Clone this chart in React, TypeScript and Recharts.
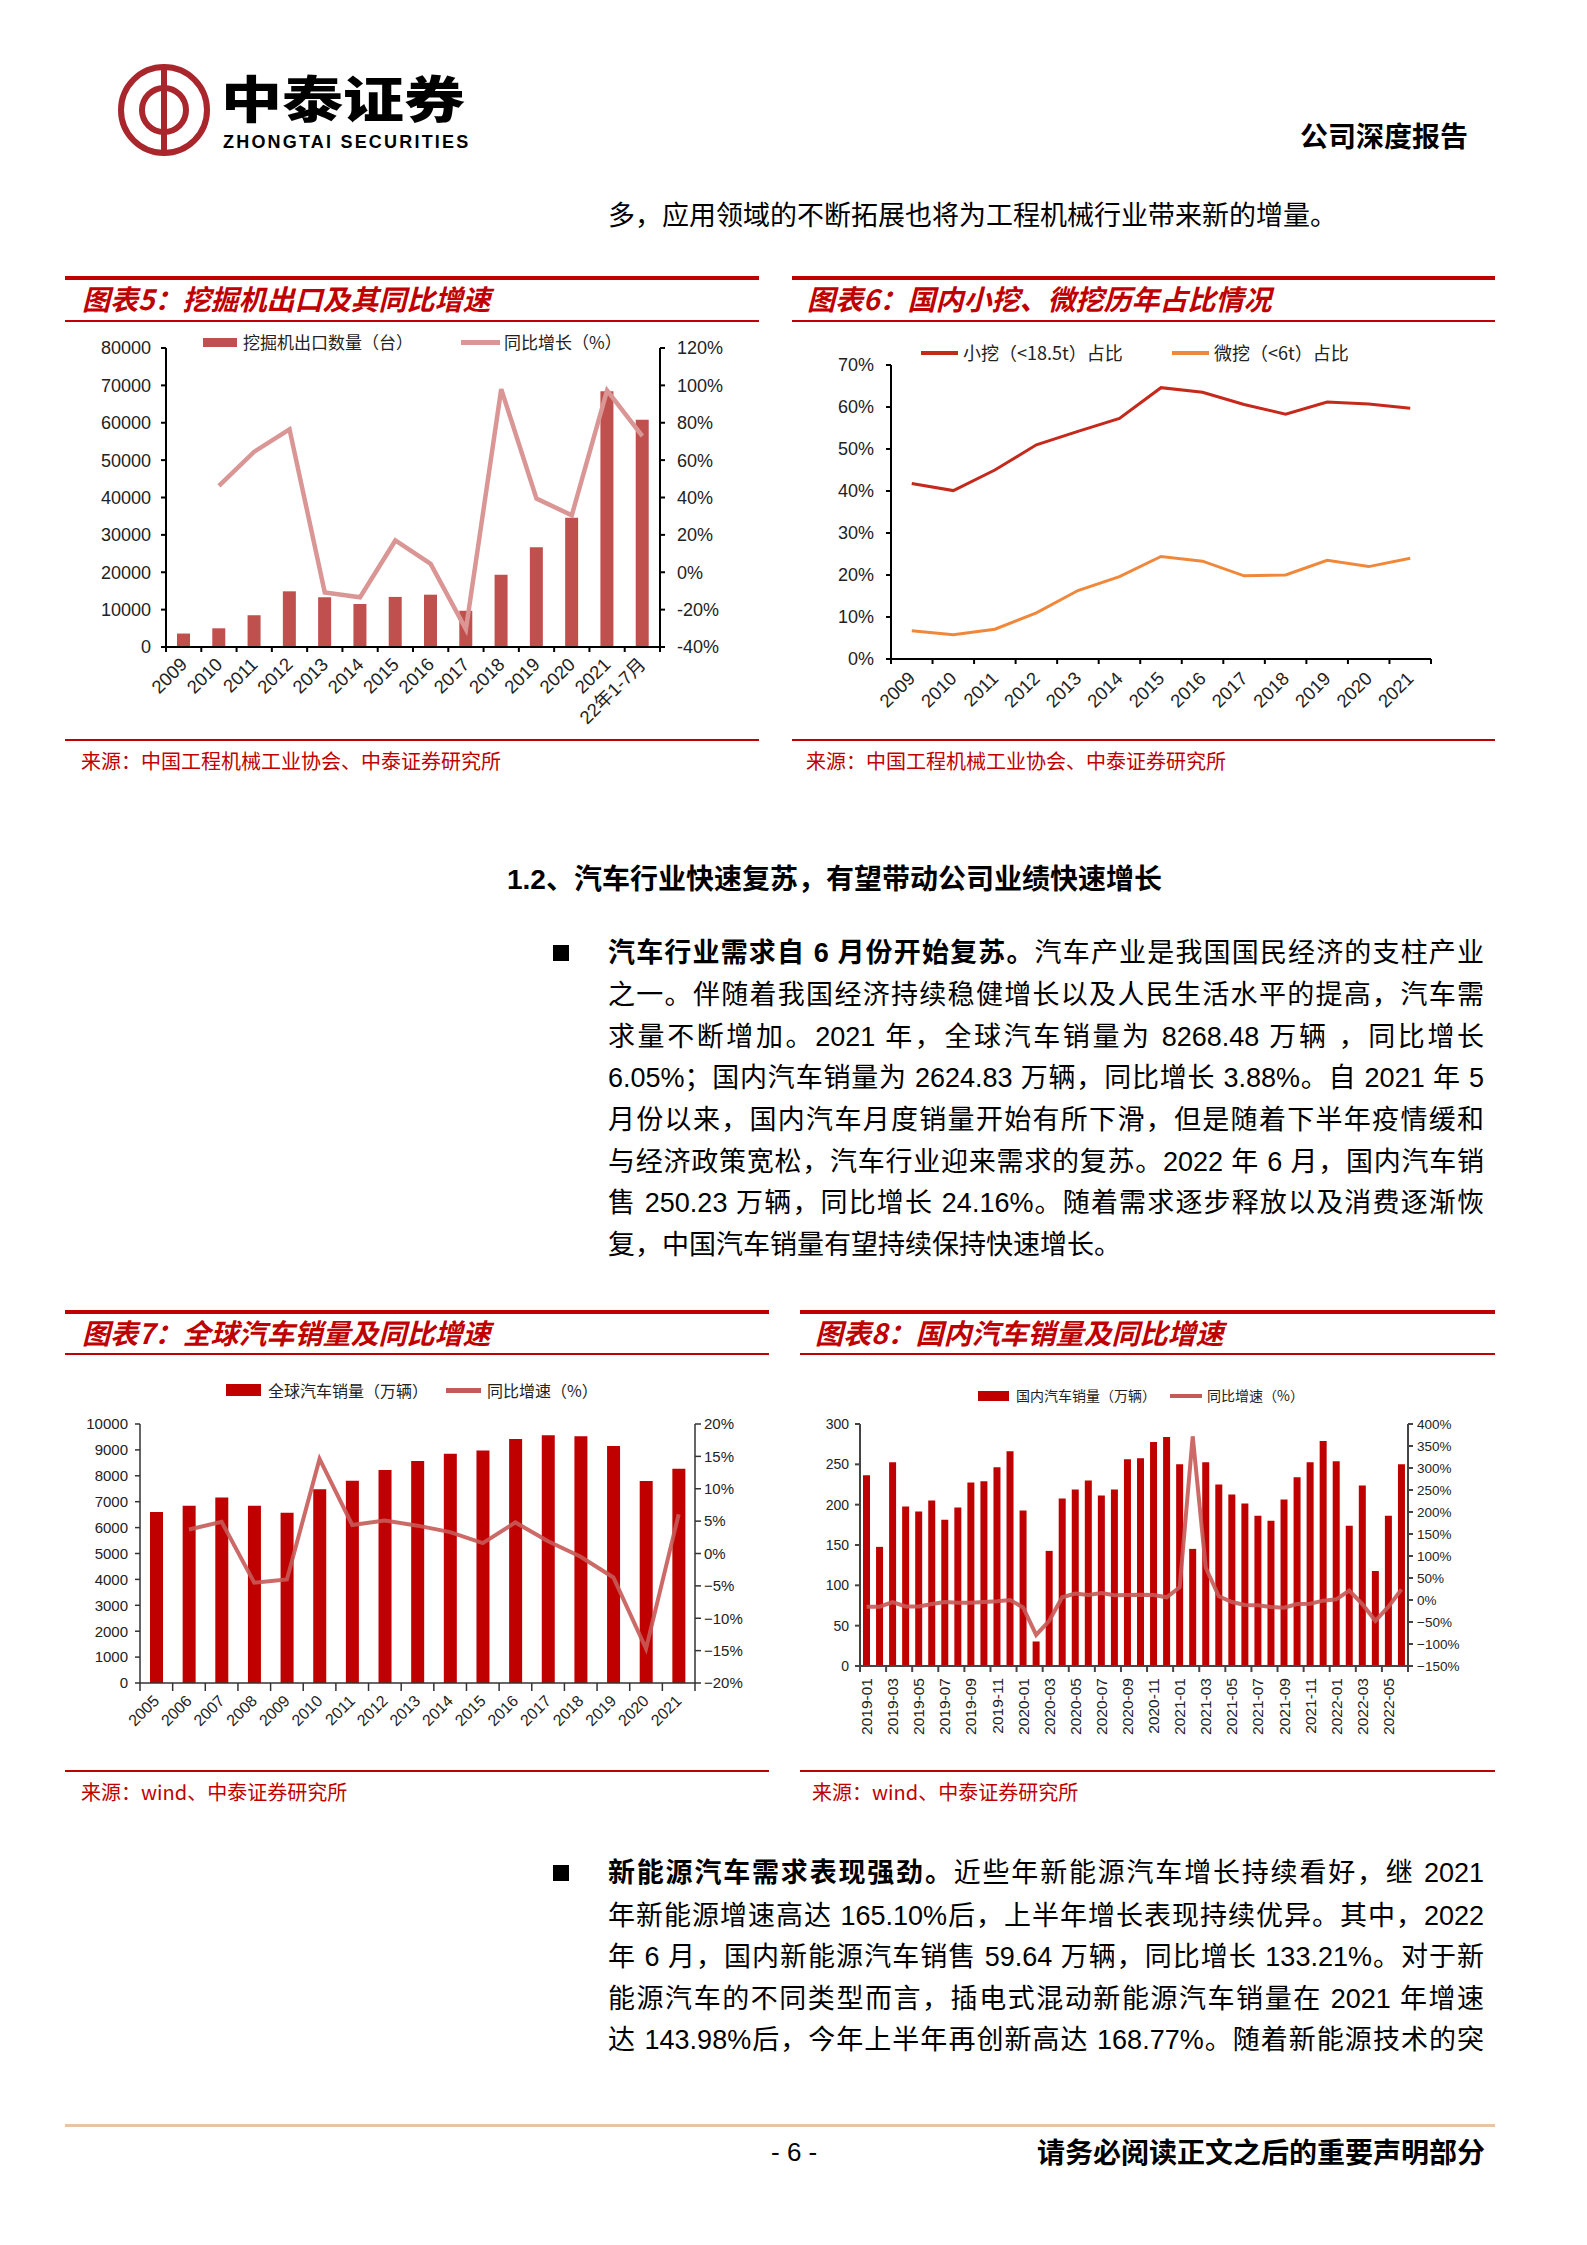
import React from 'react';
import { ComposedChart, Bar, Line, XAxis, YAxis } from 'recharts';

const RED = '#C00000';
const CJK = "'Noto Sans CJK SC', sans-serif";
const BODY = "'Liberation Sans Narrow', 'Liberation Sans', 'Noto Sans CJK SC', sans-serif";
const NUM = "'Liberation Sans', 'Noto Sans CJK SC', Arial, sans-serif";

// 图表5：挖掘机出口及其同比增速
const excYears = ['2009', '2010', '2011', '2012', '2013', '2014', '2015', '2016', '2017', '2018', '2019', '2020', '2021', '22年1-7月'];
const excExport = [3600, 5000, 8500, 14900, 13300, 11500, 13400, 14000, 9700, 19300, 26700, 34600, 68400, 60800];
const excYoy = [null, 46.2, 64.5, 76.5, -10.8, -13.4, 17.0, 4.5, -30.5, 98.0, 39.4, 30.5, 97.3, 72.9];
const excLeftTicks = [0, 10000, 20000, 30000, 40000, 50000, 60000, 70000, 80000];
const excRightTicks = [-40, -20, 0, 20, 40, 60, 80, 100, 120];

// 图表6：国内小挖、微挖历年占比
const shareYears = ['2009', '2010', '2011', '2012', '2013', '2014', '2015', '2016', '2017', '2018', '2019', '2020', '2021'];
const smallShare = [41.8, 40.1, 45.0, 51.0, 54.2, 57.3, 64.6, 63.5, 60.6, 58.3, 61.2, 60.7, 59.7];
const miniShare = [6.7, 5.8, 7.1, 11.0, 16.3, 19.6, 24.4, 23.3, 19.8, 20.0, 23.5, 22.0, 24.0];
const shareTicks = [0, 10, 20, 30, 40, 50, 60, 70];

// 图表7：全球汽车销量
const globalYears = ['2005', '2006', '2007', '2008', '2009', '2010', '2011', '2012', '2013', '2014', '2015', '2016', '2017', '2018', '2019', '2020', '2021'];
const globalSales = [6600, 6840, 7160, 6840, 6570, 7480, 7810, 8220, 8570, 8850, 8980, 9420, 9570, 9530, 9150, 7800, 8268];
const globalYoy = [null, 3.7, 4.9, -4.5, -4.0, 14.6, 4.4, 5.1, 4.3, 3.3, 1.6, 4.8, 1.9, -0.5, -3.7, -14.7, 6.05];
const globalLeftTicks = [0, 1000, 2000, 3000, 4000, 5000, 6000, 7000, 8000, 9000, 10000];
const globalRightTicks = [-20, -15, -10, -5, 0, 5, 10, 15, 20];

// 图表8：国内汽车销量
const months = [
  '2019-01', '2019-02', '2019-03', '2019-04', '2019-05', '2019-06', '2019-07', '2019-08', '2019-09', '2019-10', '2019-11', '2019-12',
  '2020-01', '2020-02', '2020-03', '2020-04', '2020-05', '2020-06', '2020-07', '2020-08', '2020-09', '2020-10', '2020-11', '2020-12',
  '2021-01', '2021-02', '2021-03', '2021-04', '2021-05', '2021-06', '2021-07', '2021-08', '2021-09', '2021-10', '2021-11', '2021-12',
  '2022-01', '2022-02', '2022-03', '2022-04', '2022-05', '2022-06',
];
const domesticSales = [
  236.4, 147.7, 252.6, 197.7, 191.4, 205.2, 181.4, 196.4, 227.6, 228.9, 246.4, 266.3,
  192.7, 30.4, 142.7, 207.7, 218.9, 230.1, 211.4, 218.9, 256.3, 257.6, 277.6, 283.8,
  250.1, 145.2, 252.6, 225.1, 212.7, 201.4, 186.4, 180.2, 206.4, 233.9, 252.6, 278.8,
  253.8, 173.9, 223.9, 117.8, 186.4, 250.2,
];
const domesticYoy = [
  -15.3, -15.3, -4.6, -14.5, -14.5, -9.2, -4.6, -6.1, -6.1, -4.6, -3.1, 0,
  -16.8, -79.3, -47.3, 6.1, 14.5, 11.4, 16.0, 10.7, 11.4, 12.2, 11.4, 6.1,
  29.0, 372, 73.2, 8.4, -4.6, -11.4, -12.2, -16.0, -17.5, -9.2, -8.4, -1.5,
  1.5, 21.4, -9.2, -47.3, -15.3, 24.2,
];
const domLeftTicks = [0, 50, 100, 150, 200, 250, 300];
const domRightTicks = [-150, -100, -50, 0, 50, 100, 150, 200, 250, 300, 350, 400];

const excData = excYears.map((name, i) => ({ name, v: excExport[i], yoy: excYoy[i] }));
const shareData = shareYears.map((name, i) => ({ name, small: smallShare[i], mini: miniShare[i] }));
const globalData = globalYears.map((name, i) => ({ name, v: globalSales[i], yoy: globalYoy[i] }));
const domData = months.map((name, i) => ({ name, v: domesticSales[i], yoy: domesticYoy[i] }));

const pct = (v: number) => `${v}%`;
const pctMinus = (v: number) => `${v < 0 ? '−' + Math.abs(v) : v}%`;

// x-axis ticks sit on the category boundaries, labels are rotated
const makeTick = (cfg: any) => (props: any) => {
  const { x, y, payload, index } = props;
  const every = cfg.every || 1;
  const show = index % every === 0;
  const ly = y + cfg.gap;
  return (
    <g>
      {show && <line x1={x - cfg.half} x2={x - cfg.half} y1={y} y2={y + cfg.len} stroke={cfg.stroke} strokeWidth={cfg.sw} />}
      {index === cfg.n - 1 && <line x1={x + cfg.half} x2={x + cfg.half} y1={y} y2={y + cfg.len} stroke={cfg.stroke} strokeWidth={cfg.sw} />}
      {show && (
        <text
          x={x}
          y={ly}
          textAnchor="end"
          dominantBaseline="central"
          transform={`rotate(${cfg.angle} ${x} ${ly})`}
          fontSize={cfg.size}
          fontFamily={NUM}
          fill="#222"
        >
          {payload.value}
        </text>
      )}
    </g>
  );
};

const Rect = ({ x, y, w, h, bg }: any) => (
  <div style={{ position: 'absolute', left: x, top: y, width: w, height: h, background: bg }} />
);

const Txt = ({ x, y, size, children, color = '#000', bold = false, italic = false, family = CJK, lh = 1.4, weight, style = {} }: any) => (
  <div
    style={{
      position: 'absolute',
      left: x,
      top: y - (size * lh) / 2,
      height: size * lh,
      lineHeight: `${size * lh}px`,
      fontSize: size,
      color,
      fontWeight: weight || (bold ? 700 : 400),
      fontStyle: italic ? 'italic' : 'normal',
      fontFamily: family,
      whiteSpace: 'nowrap',
      ...style,
    }}
  >
    {children}
  </div>
);

const Frame = ({ x1, x2, top, thin, bottom, title, titleX, source, sourceX }: any) => (
  <>
    <Rect x={x1} y={top} w={x2 - x1} h={4} bg={RED} />
    <Txt x={titleX} y={(top + thin) / 2 + 1} size={28} color={RED} bold italic>{title}</Txt>
    <Rect x={x1} y={thin} w={x2 - x1} h={2} bg={RED} />
    <Rect x={x1} y={bottom} w={x2 - x1} h={2} bg={RED} />
    <Txt x={sourceX} y={bottom + 22} size={20} color={RED}>{source}</Txt>
  </>
);

const Para = ({ x, y, w, children, last = false }: any) => (
  <div
    style={{
      position: 'absolute',
      left: x,
      top: y - 21,
      width: w,
      height: 42,
      lineHeight: '42px',
      fontSize: 27,
      fontFamily: BODY,
      color: '#000',
      whiteSpace: 'nowrap',
      textAlign: 'justify',
      textAlignLast: last ? 'left' : 'justify',
    }}
  >
    {children}
  </div>
);

const Logo = () => (
  <svg style={{ position: 'absolute', left: 110, top: 56 }} width={110} height={110} viewBox="110 56 110 110">
    <circle cx={164} cy={110} r={43} fill="none" stroke="#A8262C" strokeWidth={6} />
    <line x1={164} y1={70} x2={164} y2={150} stroke="#A8262C" strokeWidth={6} />
    <path d="M 164 88 A 22 22 0 1 0 164 132" fill="none" stroke="#A8262C" strokeWidth={6} />
    <path d="M 164 88 A 22 22 0 1 1 164 132" fill="none" stroke="#A8262C" strokeWidth={6} />
  </svg>
);

const ExcavatorChart = () => (
  <div style={{ position: 'absolute', left: 65, top: 330 }}>
    <ComposedChart width={700} height={420} data={excData} margin={{ top: 18, right: 45, left: 0, bottom: 13 }}>
      <XAxis
        dataKey="name"
        xAxisId="x"
        scale="band"
        interval={0}
        height={90}
        tickSize={0}
        tickMargin={0}
        tickLine={false}
        axisLine={{ stroke: '#000', strokeWidth: 2 }}
        tick={makeTick({ half: 17.64, n: excYears.length, len: 5, stroke: '#000', sw: 2, size: 18.5, angle: -45, gap: 14 })}
      />
      <YAxis
        yAxisId="left"
        width={101}
        domain={[0, 80000]}
        ticks={excLeftTicks}
        interval={0}
        tickSize={5}
        tickMargin={10}
        axisLine={{ stroke: '#000', strokeWidth: 2 }}
        tickLine={{ stroke: '#000', strokeWidth: 2 }}
        tick={{ fontSize: 18, fill: '#222', fontFamily: NUM }}
      />
      <YAxis
        yAxisId="right"
        orientation="right"
        width={60}
        domain={[-40, 120]}
        ticks={excRightTicks}
        interval={0}
        tickSize={5}
        tickMargin={12}
        tickFormatter={pct}
        axisLine={{ stroke: '#000', strokeWidth: 2 }}
        tickLine={{ stroke: '#000', strokeWidth: 2 }}
        tick={{ fontSize: 18, fill: '#222', fontFamily: NUM }}
      />
      <Bar dataKey="v" xAxisId="x" yAxisId="left" fill="#C0504D" barSize={13} isAnimationActive={false} />
      <Line dataKey="yoy" xAxisId="x" yAxisId="right" type="linear" stroke="#D99694" strokeWidth={4.5} dot={false} isAnimationActive={false} />
    </ComposedChart>
  </div>
);

const ShareChart = () => (
  <div style={{ position: 'absolute', left: 792, top: 340 }}>
    <ComposedChart width={700} height={400} data={shareData} margin={{ top: 25, right: 61, left: 0, bottom: 6 }}>
      <XAxis
        dataKey="name"
        scale="band"
        interval={0}
        height={75}
        tickSize={0}
        tickMargin={0}
        tickLine={false}
        axisLine={{ stroke: '#000', strokeWidth: 2 }}
        tick={makeTick({ half: 20.77, n: shareYears.length, len: 5, stroke: '#000', sw: 2, size: 18.5, angle: -45, gap: 16 })}
      />
      <YAxis
        width={99}
        domain={[0, 70]}
        ticks={shareTicks}
        interval={0}
        tickSize={5}
        tickMargin={12}
        tickFormatter={pct}
        axisLine={{ stroke: '#000', strokeWidth: 2 }}
        tickLine={{ stroke: '#000', strokeWidth: 2 }}
        tick={{ fontSize: 18, fill: '#222', fontFamily: NUM }}
      />
      <Line dataKey="small" type="linear" stroke="#C4291C" strokeWidth={3} dot={false} isAnimationActive={false} />
      <Line dataKey="mini" type="linear" stroke="#F0883C" strokeWidth={3} dot={false} isAnimationActive={false} />
    </ComposedChart>
  </div>
);

const GlobalChart = () => (
  <div style={{ position: 'absolute', left: 65, top: 1400 }}>
    <ComposedChart width={705} height={370} data={globalData} margin={{ top: 24, right: 15, left: 0, bottom: 7 }}>
      <XAxis
        dataKey="name"
        xAxisId="x"
        scale="band"
        interval={0}
        height={80}
        tickSize={0}
        tickMargin={0}
        tickLine={false}
        axisLine={{ stroke: '#333', strokeWidth: 1.5 }}
        tick={makeTick({ half: 16.32, n: globalYears.length, len: 8, stroke: '#333', sw: 1.5, size: 16, angle: -45, gap: 15 })}
      />
      <YAxis
        yAxisId="left"
        width={75}
        domain={[0, 10000]}
        ticks={globalLeftTicks}
        interval={0}
        tickSize={5}
        tickMargin={7}
        axisLine={{ stroke: '#333', strokeWidth: 1.5 }}
        tickLine={{ stroke: '#333', strokeWidth: 1.5 }}
        tick={{ fontSize: 15, fill: '#222', fontFamily: NUM }}
      />
      <YAxis
        yAxisId="right"
        orientation="right"
        width={60}
        domain={[-20, 20]}
        ticks={globalRightTicks}
        interval={0}
        tickSize={6}
        tickMargin={3}
        tickFormatter={pctMinus}
        axisLine={{ stroke: '#333', strokeWidth: 1.5 }}
        tickLine={{ stroke: '#333', strokeWidth: 1.5 }}
        tick={{ fontSize: 15, fill: '#222', fontFamily: NUM }}
      />
      <Bar dataKey="v" xAxisId="x" yAxisId="left" fill="#C00000" barSize={13} isAnimationActive={false} />
      <Line dataKey="yoy" xAxisId="x" yAxisId="right" type="linear" stroke="#C65A58" strokeOpacity={0.9} strokeWidth={4} dot={false} isAnimationActive={false} />
    </ComposedChart>
  </div>
);

const DomesticChart = () => (
  <div style={{ position: 'absolute', left: 800, top: 1400 }}>
    <ComposedChart width={695} height={370} data={domData} margin={{ top: 24, right: 17, left: 0, bottom: 9 }}>
      <XAxis
        dataKey="name"
        xAxisId="x"
        scale="band"
        interval={0}
        height={95}
        tickSize={0}
        tickMargin={0}
        tickLine={false}
        axisLine={{ stroke: '#444', strokeWidth: 2 }}
        tick={makeTick({ half: 6.52, n: months.length, len: 6, stroke: '#444', sw: 2, size: 15.5, angle: -90, gap: 12, every: 2 })}
      />
      <YAxis
        yAxisId="left"
        width={60}
        domain={[0, 300]}
        ticks={domLeftTicks}
        interval={0}
        tickSize={5}
        tickMargin={6}
        axisLine={{ stroke: '#444', strokeWidth: 2 }}
        tickLine={{ stroke: '#444', strokeWidth: 2 }}
        tick={{ fontSize: 14, fill: '#222', fontFamily: NUM }}
      />
      <YAxis
        yAxisId="right"
        orientation="right"
        width={70}
        domain={[-150, 400]}
        ticks={domRightTicks}
        interval={0}
        tickSize={5}
        tickMargin={4}
        tickFormatter={pctMinus}
        axisLine={{ stroke: '#444', strokeWidth: 2 }}
        tickLine={{ stroke: '#444', strokeWidth: 2 }}
        tick={{ fontSize: 13.5, fill: '#222', fontFamily: NUM }}
      />
      <Bar dataKey="v" xAxisId="x" yAxisId="left" fill="#C00000" barSize={7} isAnimationActive={false} />
      <Line dataKey="yoy" xAxisId="x" yAxisId="right" type="linear" stroke="#C65A58" strokeOpacity={0.9} strokeWidth={4} dot={false} isAnimationActive={false} />
    </ComposedChart>
  </div>
);

export default function App() {
  return (
    <div style={{ position: 'absolute', left: 0, top: 0, width: 1587, height: 2245, background: '#fff', overflow: 'hidden', fontFamily: CJK }}>
      {/* header */}
      <Logo />
      <Txt x={221} y={96} size={50} lh={1.0} weight={900} style={{ transform: 'scaleX(1.22)', transformOrigin: 'left center' }}>中泰证券</Txt>
      <Txt x={223} y={142} size={18} lh={1.0} bold family={NUM} style={{ letterSpacing: 2.2 }}>ZHONGTAI SECURITIES</Txt>
      <Txt x={1300} y={136} size={28} bold>公司深度报告</Txt>
      <Para x={608} y={216} w={900} last>多，应用领域的不断拓展也将为工程机械行业带来新的增量。</Para>

      {/* chart 5 */}
      <Frame x1={65} x2={759} top={276} thin={320} bottom={739} title="图表5：挖掘机出口及其同比增速" titleX={82} source="来源：中国工程机械工业协会、中泰证券研究所" sourceX={81} />
      <ExcavatorChart />
      <Rect x={203} y={338} w={34} h={9} bg="#C0504D" />
      <Txt x={243} y={342} size={17} color="#222">挖掘机出口数量（台）</Txt>
      <Rect x={461} y={340} w={39} h={5} bg="#D99694" />
      <Txt x={504} y={342} size={17} color="#222">同比增长（%）</Txt>

      {/* chart 6 */}
      <Frame x1={792} x2={1495} top={276} thin={320} bottom={739} title="图表6：国内小挖、微挖历年占比情况" titleX={807} source="来源：中国工程机械工业协会、中泰证券研究所" sourceX={806} />
      <ShareChart />
      <Rect x={921} y={351} w={37} h={4} bg="#C4291C" />
      <Txt x={963} y={353} size={18} color="#222">小挖（&lt;18.5t）占比</Txt>
      <Rect x={1172} y={351} w={37} h={4} bg="#F0883C" />
      <Txt x={1214} y={353} size={18} color="#222">微挖（&lt;6t）占比</Txt>

      {/* section heading and paragraph */}
      <Txt x={507} y={880} size={28} bold family={NUM}>1.2、汽车行业快速复苏，有望带动公司业绩快速增长</Txt>
      <Rect x={553} y={945} w={16} h={16} bg="#000" />
      <Para x={608} y={953} w={876}><b>汽车行业需求自 6 月份开始复苏。</b>汽车产业是我国国民经济的支柱产业</Para>
      <Para x={608} y={995} w={876}>之一。伴随着我国经济持续稳健增长以及人民生活水平的提高，汽车需</Para>
      <Para x={608} y={1037} w={876}>求量不断增加。2021 年，全球汽车销量为 8268.48 万辆 ，同比增长</Para>
      <Para x={608} y={1078} w={876}>6.05%；国内汽车销量为 2624.83 万辆，同比增长 3.88%。自 2021 年 5</Para>
      <Para x={608} y={1120} w={876}>月份以来，国内汽车月度销量开始有所下滑，但是随着下半年疫情缓和</Para>
      <Para x={608} y={1162} w={876}>与经济政策宽松，汽车行业迎来需求的复苏。2022 年 6 月，国内汽车销</Para>
      <Para x={608} y={1203} w={876}>售 250.23 万辆，同比增长 24.16%。随着需求逐步释放以及消费逐渐恢</Para>
      <Para x={608} y={1245} w={876} last>复，中国汽车销量有望持续保持快速增长。</Para>

      {/* chart 7 */}
      <Frame x1={65} x2={769} top={1310} thin={1353} bottom={1770} title="图表7：全球汽车销量及同比增速" titleX={82} source="来源：wind、中泰证券研究所" sourceX={81} />
      <GlobalChart />
      <Rect x={226} y={1384} w={35} h={12} bg="#C00000" />
      <Txt x={268} y={1390} size={16} color="#222">全球汽车销量（万辆）</Txt>
      <Rect x={446} y={1388} w={35} h={5} bg="#C65A58" />
      <Txt x={487} y={1390} size={16} color="#222">同比增速（%）</Txt>

      {/* chart 8 */}
      <Frame x1={800} x2={1495} top={1310} thin={1353} bottom={1770} title="图表8：国内汽车销量及同比增速" titleX={815} source="来源：wind、中泰证券研究所" sourceX={812} />
      <DomesticChart />
      <Rect x={978} y={1391} w={31} h={10} bg="#C00000" />
      <Txt x={1016} y={1396} size={14} color="#222">国内汽车销量（万辆）</Txt>
      <Rect x={1170} y={1394} w={32} h={4} bg="#C65A58" />
      <Txt x={1207} y={1396} size={14} color="#222">同比增速（%）</Txt>

      {/* second paragraph */}
      <Rect x={553} y={1865} w={16} h={16} bg="#000" />
      <Para x={608} y={1873} w={876}><b>新能源汽车需求表现强劲。</b>近些年新能源汽车增长持续看好，继 2021</Para>
      <Para x={608} y={1916} w={876}>年新能源增速高达 165.10%后，上半年增长表现持续优异。其中，2022</Para>
      <Para x={608} y={1957} w={876}>年 6 月，国内新能源汽车销售 59.64 万辆，同比增长 133.21%。对于新</Para>
      <Para x={608} y={1999} w={876}>能源汽车的不同类型而言，插电式混动新能源汽车销量在 2021 年增速</Para>
      <Para x={608} y={2040} w={876}>达 143.98%后，今年上半年再创新高达 168.77%。随着新能源技术的突</Para>

      {/* footer */}
      <Rect x={65} y={2124} w={1430} h={3} bg="#E6C4A8" />
      <Txt x={771} y={2152} size={26} family={NUM}>- 6 -</Txt>
      <Txt x={1037} y={2152} size={28} bold>请务必阅读正文之后的重要声明部分</Txt>
    </div>
  );
}
